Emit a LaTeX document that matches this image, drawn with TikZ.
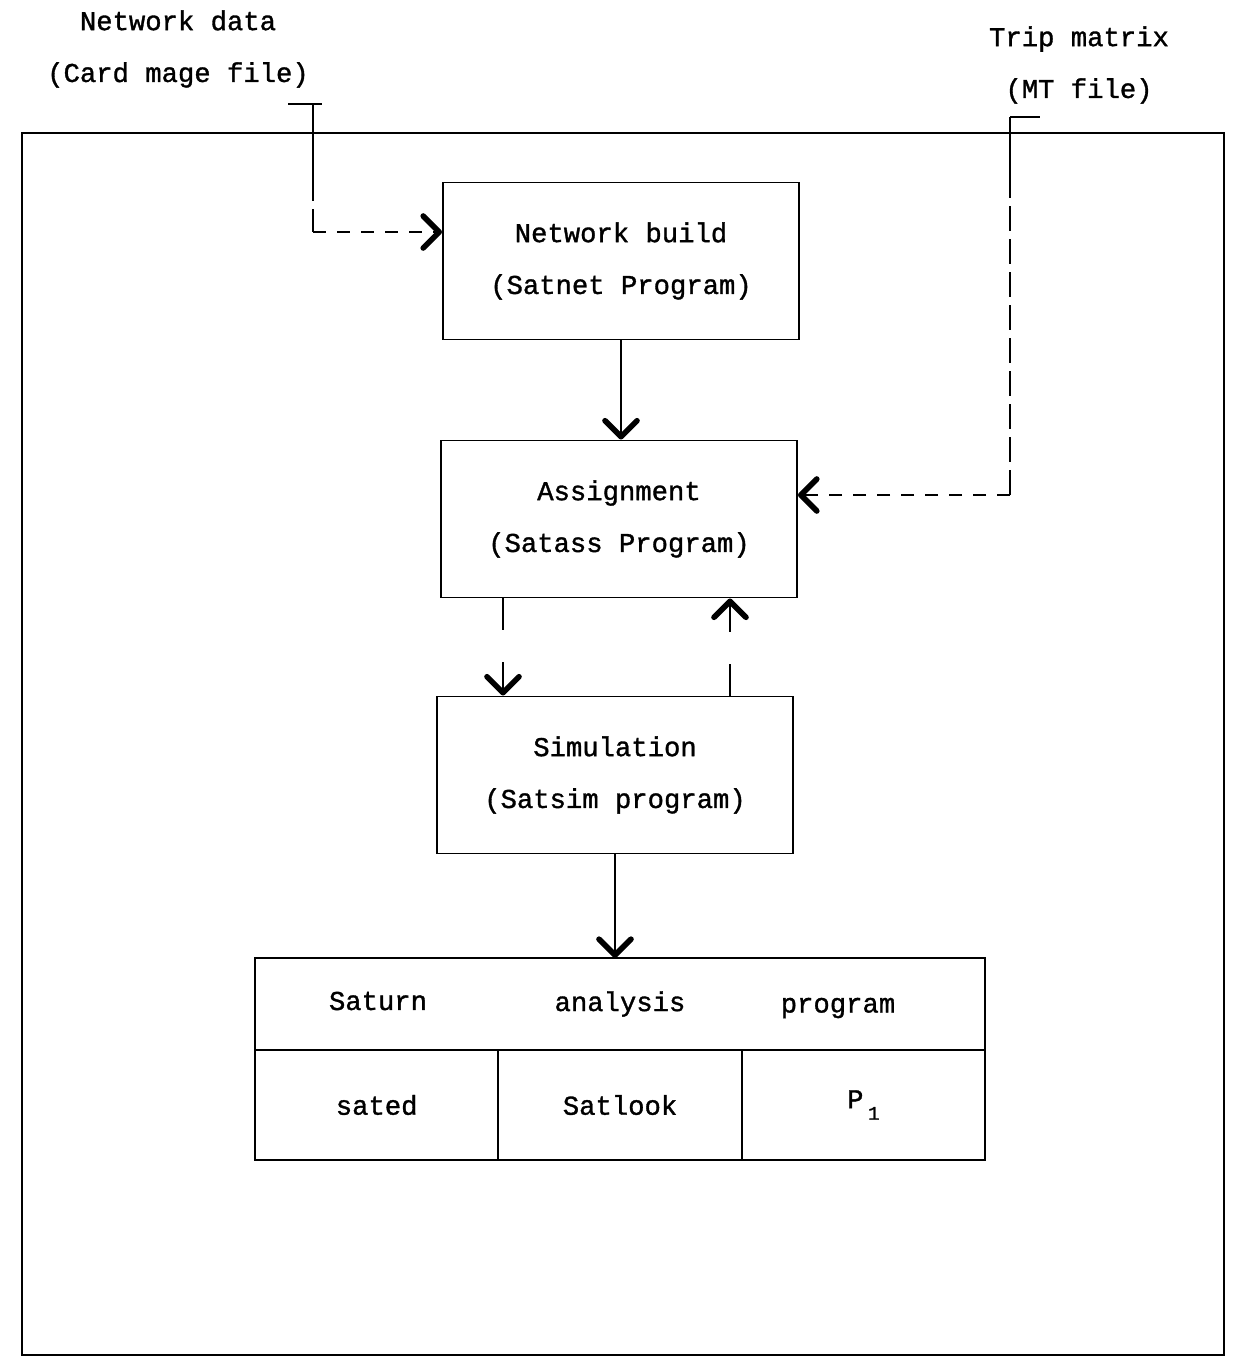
\documentclass[tikz,border=0pt]{standalone}
\usepackage{fontspec}
\newfontfamily\maquina[FakeBold=1.2]{Liberation Mono}
\usetikzlibrary{
    positioning,                      % below=of, etc.
    arrows.meta,                      % puntas Straight Barb
    calc                              % coordenadas auxiliares
}
\tikzset{
    procbox/.style={
        rectangle, draw, line width=1.1pt,
        minimum width=71.2mm, minimum height=31.4mm,
        align=center
    },
    cell/.style={
        rectangle, draw, line width=1.1pt,
        minimum width=48.67mm, minimum height=22mm,
        inner sep=0pt, outer sep=0pt
    },
    flow/.style={
        -{Straight Barb[length=3.2mm, width=6.4mm, line width=3.2pt, round]},
        line width=1.1pt
    },
    feed/.style={
        flow, dash pattern=on 2.6mm off 2.2mm
    },
    vfeed/.style={
        line width=1.1pt, dash pattern=on 5mm off 1.6mm
    },
    broken/.style={
        dash pattern=on 6.4mm off 6.4mm
    },
    tag/.style={
        align=center
    }
}

\begin{document}
\begin{tikzpicture}[
        x=0.2mm, y=-0.2mm,
        every node/.style={font=\maquina\fontsize{15.5}{29.5}\selectfont}
    ]
        \useasboundingbox (0,0) rectangle (1233,1371);

        % --- Marco general ---
        \draw[line width=1.1pt] (22,133) rectangle (1224,1355);

        % --- Entradas ---
        \node[tag] (netdata) at (178,49) {Network data\\(Card mage file)};
        \node[tag] (tripmat) at (1079,65) {Trip matrix\\(MT file)};

        % --- Programas ---
        \node[procbox] (netbuild) at (621,261) {Network build\\(Satnet Program)};
        \node[procbox] (assign) at (619,519) {Assignment\\(Satass Program)};
        \node[procbox] (simul) at (615,775) {Simulation\\(Satsim program)};

        % --- Tabla de analisis ---
        \node[cell, minimum width=146mm, minimum height=18.4mm] (satbar) at (620,1004) {};
        \node (saturn) at (378,1001) {Saturn};
        \node (analysis) at (620,1004) {analysis};
        \node (program) at (838,1008) {program};
        \node[cell, anchor=north west] (sated) at (satbar.south west) {sated};
        \node[cell, anchor=west] (satlook) at (sated.east) {Satlook};
        \node[cell, anchor=west] (pone) at (satlook.east) {P\,\raisebox{-0.8ex}{\fontsize{11}{11}\selectfont 1}};

        % --- Flujo principal ---
        \draw[flow] (netbuild.south) -- (netbuild.south |- assign.north);
        \draw[flow] (simul.south) -- (simul.south |- satbar.north);

        % Iteracion entre asignacion y simulacion
        \draw[flow, broken] ([xshift=-23.2mm]assign.south) -- ([xshift=-23.2mm]assign.south |- simul.north);
        \draw[flow, broken] ([xshift=23mm]simul.north) -- ([xshift=23mm]simul.north |- assign.south);

        % --- Datos de red (izquierda) ---
        \coordinate (nfeed) at (313,104);
        \coordinate (ncorner) at (313,232);
        \draw[line width=1.1pt] ([xshift=-5mm]nfeed) -- ([xshift=1.8mm]nfeed);
        \draw[line width=1.1pt] (nfeed) -- ++(0,72) coordinate (nstub);
        \draw[vfeed] (nstub) -- (ncorner);
        \draw[feed] (ncorner) -- (ncorner -| netbuild.west);

        % --- Matriz de viajes (derecha) ---
        \coordinate (mfeed) at (1010,117);
        \coordinate (mcorner) at (1010,495);
        \draw[line width=1.1pt] (mfeed) -- ([xshift=6mm]mfeed);
        \draw[line width=1.1pt] (mfeed) -- ++(0,56) coordinate (mstub);
        \draw[vfeed] (mstub) -- (mcorner);
        \draw[feed] (mcorner) -- (mcorner -| assign.east);

    \end{tikzpicture}
\end{document}
